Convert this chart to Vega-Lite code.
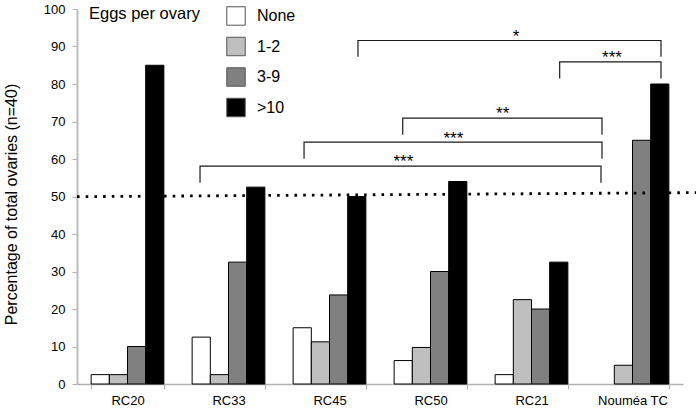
{
  "$schema": "https://vega.github.io/schema/vega-lite/v6.json",
  "width": 606,
  "height": 375,
  "autosize": "none",
  "padding": {"left": 77, "top": 9, "right": 13, "bottom": 25},
  "background": "white",
  "config": {
    "font": "Liberation Sans",
    "view": {"stroke": null},
    "axisY": {
      "grid": false,
      "labelFontSize": 13,
      "labelColor": "black",
      "labelPadding": 7,
      "labelOverlap": false,
      "domainColor": "#bdbdbd",
      "domainWidth": 2,
      "tickColor": "#b0b0b0",
      "tickSize": 5,
      "titleFontSize": 16,
      "titleFontWeight": "normal",
      "titleColor": "black",
      "titleX": -66,
      "titleY": 195,
      "titleAlign": "center",
      "titleBaseline": "middle"
    }
  },
  "datasets": {
    "bars": [
      {"site": "RC20", "eggs": "None", "pct": 2.5},
      {"site": "RC20", "eggs": "1-2", "pct": 2.5},
      {"site": "RC20", "eggs": "3-9", "pct": 10},
      {"site": "RC20", "eggs": ">10", "pct": 85},
      {"site": "RC33", "eggs": "None", "pct": 12.5},
      {"site": "RC33", "eggs": "1-2", "pct": 2.5},
      {"site": "RC33", "eggs": "3-9", "pct": 32.5},
      {"site": "RC33", "eggs": ">10", "pct": 52.5},
      {"site": "RC45", "eggs": "None", "pct": 15},
      {"site": "RC45", "eggs": "1-2", "pct": 11.25},
      {"site": "RC45", "eggs": "3-9", "pct": 23.75},
      {"site": "RC45", "eggs": ">10", "pct": 50},
      {"site": "RC50", "eggs": "None", "pct": 6.25},
      {"site": "RC50", "eggs": "1-2", "pct": 9.75},
      {"site": "RC50", "eggs": "3-9", "pct": 30},
      {"site": "RC50", "eggs": ">10", "pct": 54},
      {"site": "RC21", "eggs": "None", "pct": 2.5},
      {"site": "RC21", "eggs": "1-2", "pct": 22.5},
      {"site": "RC21", "eggs": "3-9", "pct": 20},
      {"site": "RC21", "eggs": ">10", "pct": 32.5},
      {"site": "Nouméa TC", "eggs": "1-2", "pct": 5},
      {"site": "Nouméa TC", "eggs": "3-9", "pct": 65},
      {"site": "Nouméa TC", "eggs": ">10", "pct": 80}
    ],
    "ref": [
      {"u": 0, "v": 49.95},
      {"u": 6.13, "v": 51.03}
    ],
    "brackets": [
      {"b": 1, "o": 1, "u": 2.782, "v": 87.3},
      {"b": 1, "o": 2, "u": 2.782, "v": 91.6},
      {"b": 1, "o": 3, "u": 5.782, "v": 91.6},
      {"b": 1, "o": 4, "u": 5.782, "v": 87.3},
      {"b": 2, "o": 1, "u": 4.779, "v": 81.5},
      {"b": 2, "o": 2, "u": 4.779, "v": 85.9},
      {"b": 2, "o": 3, "u": 5.782, "v": 85.9},
      {"b": 2, "o": 4, "u": 5.782, "v": 81.5},
      {"b": 3, "o": 1, "u": 3.225, "v": 66.5},
      {"b": 3, "o": 2, "u": 3.225, "v": 70.9},
      {"b": 3, "o": 3, "u": 5.198, "v": 70.9},
      {"b": 3, "o": 4, "u": 5.198, "v": 66.5},
      {"b": 4, "o": 1, "u": 2.248, "v": 60.1},
      {"b": 4, "o": 2, "u": 2.248, "v": 64.5},
      {"b": 4, "o": 3, "u": 5.198, "v": 64.5},
      {"b": 4, "o": 4, "u": 5.198, "v": 60.1},
      {"b": 5, "o": 1, "u": 1.218, "v": 53.7},
      {"b": 5, "o": 2, "u": 1.218, "v": 58.1},
      {"b": 5, "o": 3, "u": 5.188, "v": 58.1},
      {"b": 5, "o": 4, "u": 5.188, "v": 53.7}
    ],
    "stars": [
      {"t": "*", "u": 4.347, "v": 91.3},
      {"t": "***", "u": 5.297, "v": 85.6},
      {"t": "**", "u": 4.215, "v": 70.6},
      {"t": "***", "u": 3.726, "v": 64.1},
      {"t": "***", "u": 3.231, "v": 57.8}
    ]
  },
  "layer": [
    {
      "data": {"name": "bars"},
      "mark": {"type": "bar", "stroke": "black", "strokeWidth": 1},
      "encoding": {
        "x": {
          "field": "site",
          "type": "nominal",
          "sort": ["RC20", "RC33", "RC45", "RC50", "RC21", "Nouméa TC"],
          "scale": {"paddingInner": 0.28, "paddingOuter": 0.14},
          "axis": {
            "title": null,
            "labelAngle": 0,
            "labelFontSize": 13,
            "labelColor": "black",
            "labelPadding": 5,
            "domainColor": "#b0b0b0",
            "domainWidth": 1.5,
            "tickColor": "#b0b0b0",
            "tickSize": 5,
            "tickBand": "extent"
          }
        },
        "xOffset": {
          "field": "eggs",
          "type": "nominal",
          "sort": ["None", "1-2", "3-9", ">10"],
          "scale": {"paddingInner": 0, "paddingOuter": 0}
        },
        "y": {
          "field": "pct",
          "type": "quantitative",
          "title": "Percentage of total ovaries (n=40)",
          "scale": {"domain": [0, 100], "nice": false},
          "axis": {"values": [0, 10, 20, 30, 40, 50, 60, 70, 80, 90, 100]}
        },
        "fill": {
          "field": "eggs",
          "type": "nominal",
          "scale": {
            "domain": ["None", "1-2", "3-9", ">10"],
            "range": ["#ffffff", "#bfbfbf", "#808080", "#000000"]
          },
          "legend": {
            "title": "Eggs per ovary",
            "orient": "none",
            "legendX": 12,
            "legendY": -3,
            "titleOrient": "left",
            "titleAnchor": "start",
            "titleBaseline": "top",
            "titleFontSize": 16.5,
            "titleFontWeight": "normal",
            "titleColor": "black",
            "titlePadding": 26,
            "labelFontSize": 16,
            "labelColor": "black",
            "labelOffset": 11,
            "symbolType": "square",
            "symbolSize": 340,
            "symbolStrokeColor": "#555555",
            "symbolStrokeWidth": 1,
            "rowPadding": 6.5
          }
        }
      }
    },
    {
      "data": {"name": "ref"},
      "mark": {"type": "line", "color": "black", "strokeWidth": 2.8, "strokeDash": [2.6, 6.1], "strokeCap": "butt", "clip": false},
      "encoding": {
        "x": {"field": "u", "type": "quantitative", "scale": {"domain": [0, 6], "nice": false, "zero": false}, "axis": null},
        "y": {"field": "v", "type": "quantitative", "title": "Percentage of total ovaries (n=40)", "axis": {"values": [0, 10, 20, 30, 40, 50, 60, 70, 80, 90, 100]}}
      }
    },
    {
      "data": {"name": "brackets"},
      "mark": {"type": "line", "color": "#1a1a1a", "strokeWidth": 1.2, "clip": false},
      "encoding": {
        "x": {"field": "u", "type": "quantitative", "scale": {"domain": [0, 6], "nice": false, "zero": false}, "axis": null},
        "y": {"field": "v", "type": "quantitative", "title": "Percentage of total ovaries (n=40)", "axis": {"values": [0, 10, 20, 30, 40, 50, 60, 70, 80, 90, 100]}},
        "detail": {"field": "b", "type": "nominal"},
        "order": {"field": "o", "type": "quantitative"}
      }
    },
    {
      "data": {"name": "stars"},
      "mark": {"type": "text", "fontSize": 17, "color": "black", "align": "center", "baseline": "alphabetic"},
      "encoding": {
        "x": {"field": "u", "type": "quantitative", "scale": {"domain": [0, 6], "nice": false, "zero": false}, "axis": null},
        "y": {"field": "v", "type": "quantitative", "title": "Percentage of total ovaries (n=40)", "axis": {"values": [0, 10, 20, 30, 40, 50, 60, 70, 80, 90, 100]}},
        "text": {"field": "t", "type": "nominal"}
      }
    }
  ],
  "resolve": {"scale": {"x": "independent"}}
}
